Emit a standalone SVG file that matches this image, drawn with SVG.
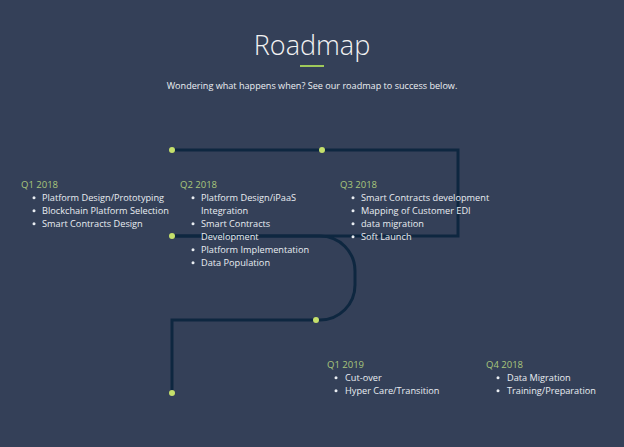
<svg xmlns="http://www.w3.org/2000/svg" width="624" height="447" viewBox="0 0 624 447">
<style>
.bg{fill:#344058}
.title{font-family:"Open Sans","Liberation Sans",sans-serif;font-weight:300;font-size:27px;fill:#f2f2f2}
.sub{font-family:"Open Sans","Liberation Sans",sans-serif;font-size:9.1px;fill:#eceff3}
.q{font-family:"Open Sans","Liberation Sans",sans-serif;font-size:9.5px;fill:#a9c77c}
.it{font-family:"Open Sans","Liberation Sans",sans-serif;font-size:9.2px;fill:#e9edf2}
.line{fill:none;stroke:#0e2740;stroke-width:3}
.dot{fill:#c5e06b}
.b{fill:#e9edf2}
</style>
<rect class="bg" x="0" y="0" width="624" height="447"/>
<g id="header">
<text class="title" x="312" y="55" text-anchor="middle">Roadmap</text>
<rect x="300" y="65" width="24" height="2" fill="#9fc95a"/>
<text class="sub" x="312" y="89" text-anchor="middle">Wondering what happens when? See our roadmap to success below.</text>
</g>
<g id="connectors">
<path class="line" d="M172 150 H458 V236 H172"/>
<path class="line" d="M172 236 H320 A35 35 0 0 1 355 271 V285 A35 35 0 0 1 320 320 H172 V393"/>
</g>
<g id="milestones">
<circle class="dot" cx="172" cy="150" r="3"/>
<circle class="dot" cx="322" cy="150" r="3"/>
<circle class="dot" cx="172" cy="236" r="3"/>
<circle class="dot" cx="316" cy="320" r="3"/>
<circle class="dot" cx="172" cy="393" r="3"/>
</g>
<g id="q1-2018">
<text class="q" x="21" y="188">Q1 2018</text>
<circle class="b" cx="34" cy="197.8" r="1.5"/><text class="it" x="42" y="201">Platform Design/Prototyping</text>
<circle class="b" cx="34" cy="210.8" r="1.5"/><text class="it" x="42" y="214">Blockchain Platform Selection</text>
<circle class="b" cx="34" cy="223.8" r="1.5"/><text class="it" x="42" y="227">Smart Contracts Design</text>
</g>
<g id="q2-2018">
<text class="q" x="180" y="188">Q2 2018</text>
<circle class="b" cx="193" cy="197.8" r="1.5"/><text class="it" x="201" y="201">Platform Design/iPaaS</text>
<text class="it" x="201" y="214">Integration</text>
<circle class="b" cx="193" cy="223.8" r="1.5"/><text class="it" x="201" y="227">Smart Contracts</text>
<text class="it" x="201" y="240">Development</text>
<circle class="b" cx="193" cy="249.8" r="1.5"/><text class="it" x="201" y="253">Platform Implementation</text>
<circle class="b" cx="193" cy="262.8" r="1.5"/><text class="it" x="201" y="266">Data Population</text>
</g>
<g id="q3-2018">
<text class="q" x="340" y="188">Q3 2018</text>
<circle class="b" cx="353" cy="197.8" r="1.5"/><text class="it" x="361" y="201">Smart Contracts development</text>
<circle class="b" cx="353" cy="210.8" r="1.5"/><text class="it" x="361" y="214">Mapping of Customer EDI</text>
<circle class="b" cx="353" cy="223.8" r="1.5"/><text class="it" x="361" y="227">data migration</text>
<circle class="b" cx="353" cy="236.8" r="1.5"/><text class="it" x="361" y="240">Soft Launch</text>
</g>
<g id="q1-2019">
<text class="q" x="327" y="368">Q1 2019</text>
<circle class="b" cx="336" cy="377.8" r="1.5"/><text class="it" x="345" y="381">Cut-over</text>
<circle class="b" cx="336" cy="390.8" r="1.5"/><text class="it" x="345" y="394">Hyper Care/Transition</text>
</g>
<g id="q4-2018">
<text class="q" x="486" y="368">Q4 2018</text>
<circle class="b" cx="498" cy="377.8" r="1.5"/><text class="it" x="507" y="381">Data Migration</text>
<circle class="b" cx="498" cy="390.8" r="1.5"/><text class="it" x="507" y="394">Training/Preparation</text>
</g>
</svg>
